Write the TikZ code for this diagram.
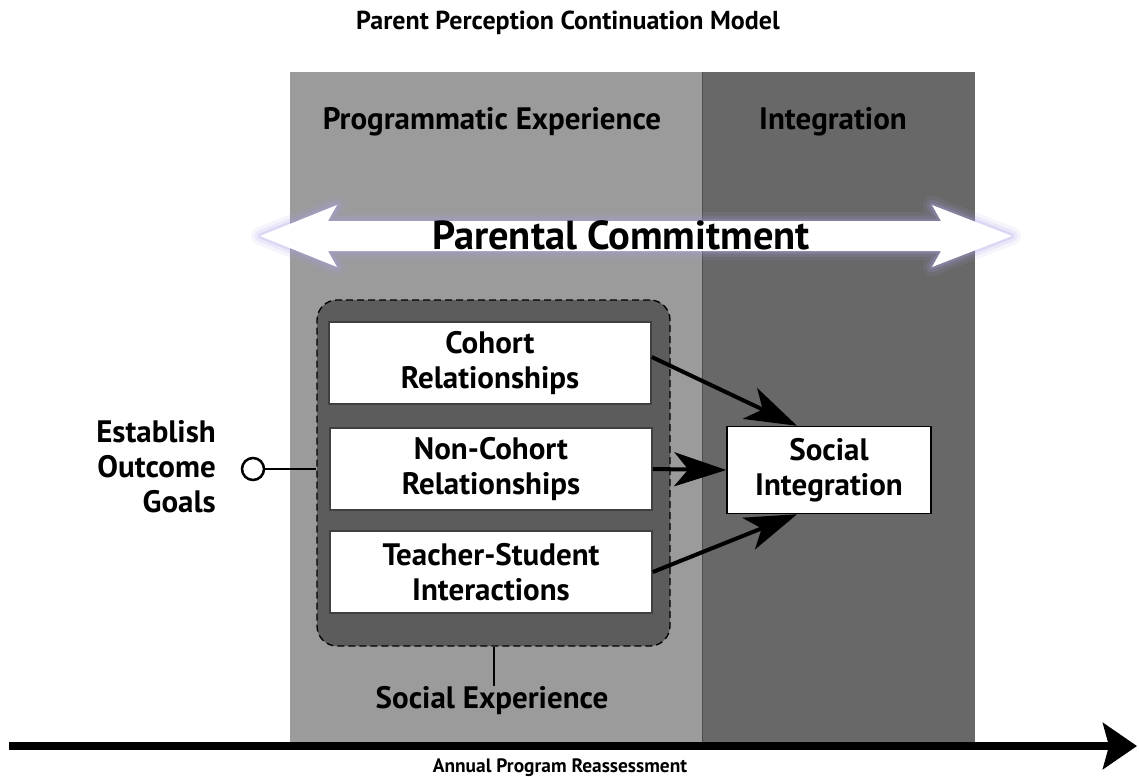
\documentclass[tikz,border=0pt]{standalone}
\usepackage{fontspec}
\setmainfont{PT Sans}
\usetikzlibrary{arrows.meta}
\definecolor{panelLight}{HTML}{9B9B9B}
\definecolor{panelDark}{HTML}{686868}
\definecolor{groupFill}{HTML}{5C5C5C}
\definecolor{glow}{RGB}{170,160,230}
\begin{document}
\begin{tikzpicture}[x=1pt,y=-1pt,
  every node/.style={inner sep=0pt},
  big/.style={font=\bfseries\fontsize{31}{35}\selectfont},
  relbox/.style={big,draw=black!75,line width=1.5pt,fill=white,minimum width=322pt,minimum height=82pt,align=center},
  flow/.style={line width=4pt,-{Stealth[length=52pt,width=34pt,inset=14pt]}}]
\useasboundingbox (0,0) rectangle (1139,776);
\fill[panelLight] (290,72) rectangle (702,742);
\fill[panelDark] (702,72) rectangle (975,742);
\draw[black!70,line width=1pt] (702,72) -- (702,742);
\node[anchor=base,font=\bfseries\fontsize{26}{31}\selectfont] (title) at (568,30) {Parent Perception Continuation Model};
\node[big,anchor=base] (progexp) at (492,129) {Programmatic Experience};
\node[big,anchor=base] (integ) at (833,129) {Integration};
\foreach \w/\o in {18/0.10,11/0.15,5/0.25}
  \draw[glow,line width=\w pt,opacity=\o,line join=round] (260,236) -- (337,205) -- (328,221) -- (941,221) -- (932,205) -- (1012,236) -- (932,267) -- (941,251) -- (328,251) -- (337,267) -- cycle;
\fill[white] (260,236) -- (337,205) -- (328,221) -- (941,221) -- (932,205) -- (1012,236) -- (932,267) -- (941,251) -- (328,251) -- (337,267) -- cycle;
\node[anchor=base,font=\bfseries\fontsize{40.5}{46}\selectfont] (commit) at (621,249) {Parental Commitment};
\node[draw,line width=1.3pt,dash pattern=on 7pt off 4pt,fill=groupFill,rounded corners=20pt,minimum width=353pt,minimum height=346pt] (social) at (493.5,473) {};
\node[relbox] (cohort) at (490,363) {Cohort\\Relationships};
\node[relbox] (noncohort) at (491,469) {Non-Cohort\\Relationships};
\node[relbox] (teacher) at (491,572) {Teacher-Student\\Interactions};
\node[big,draw=black,line width=1.5pt,fill=white,minimum width=204pt,minimum height=87pt,align=center] (socint) at (829,470) {Social\\Integration};
\draw[flow] ([yshift=6pt]cohort.east) -- ([xshift=-32pt]socint.north);
\draw[flow] (noncohort.east) -- (socint.west);
\draw[flow] (teacher.east) -- ([xshift=-32pt]socint.south);
\node[big,align=right,anchor=east] (goals) at (216,467) {Establish\\Outcome\\Goals};
\node[circle,draw,line width=2.5pt,fill=white,minimum size=22pt] (goalpin) at (253,469) {};
\draw[line width=2pt] (goalpin.east) -- (goalpin.east -| social.west);
\node[big,anchor=base] (socexp) at (492,708) {Social Experience};
\draw[line width=2pt] (social.south) -- (social.south |- socexp.north);
\coordinate (tstart) at (9,746);
\coordinate (tend) at (1137,746);
\draw[line width=8pt,-{Stealth[length=34pt,width=46pt,inset=6pt]}] (tstart) -- (tend);
\node[anchor=base,font=\bfseries\fontsize{19.4}{23}\selectfont] (reassess) at (560,772) {Annual Program Reassessment};
\end{tikzpicture}
\end{document}
